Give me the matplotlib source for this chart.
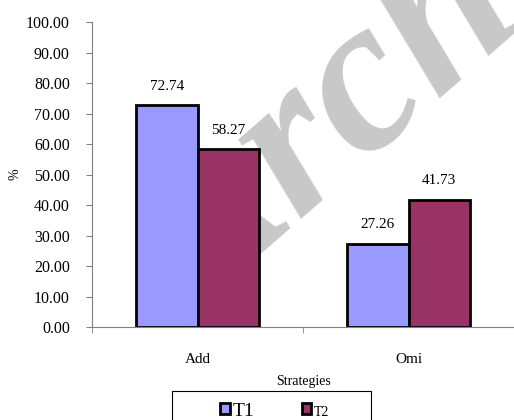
import matplotlib.pyplot as plt
from matplotlib.patches import Rectangle
import numpy as np

strategies = ["Add", "Omi"]
t1 = [72.74, 27.26]
t2 = [58.27, 41.73]
series_names = ["T1", "T2"]

plt.rcParams['font.family'] = ['Liberation Serif', 'DejaVu Serif']

fig = plt.figure(figsize=(5.14, 4.20), dpi=100)
ax = fig.add_axes([0.179, 0.2214, 0.821, 0.7262])

# faint watermark behind the bars
fig.text(190 / 514, 1 - 325 / 420, "Archive", rotation=41, rotation_mode="anchor",
         fontsize=159, color="#c8c8c8", fontstyle="italic", fontweight="bold",
         ha="left", va="baseline", zorder=0)
ax.set_zorder(1)
ax.patch.set_alpha(0)

x = np.arange(len(strategies))
w = 0.29
b1 = ax.bar(x - w / 2, t1, w, color="#9999ff", edgecolor="black", linewidth=2, label=series_names[0])
b2 = ax.bar(x + w / 2, t2, w, color="#993366", edgecolor="black", linewidth=2, label=series_names[1])

for bars, vals in [(b1, t1), (b2, t2)]:
    for bar, v in zip(bars, vals):
        ax.annotate(f"{v:.2f}", (bar.get_x() + bar.get_width() / 2, v),
                    xytext=(0, 9), textcoords="offset points", ha="center", va="bottom", fontsize=11)

ax.set_xlim(-0.5, 1.5)
ax.set_ylim(0, 100)
ax.set_yticks(np.arange(0, 101, 10))
ax.set_yticklabels([f"{v:.2f}" for v in np.arange(0, 101, 10)], fontsize=11.5)
ax.set_xticks(x)
ax.set_xticklabels(strategies, fontsize=11)
ax.set_xticks([-0.5, 0.5, 1.5], minor=True)
ax.tick_params(axis="x", which="major", length=0, pad=19)
ax.tick_params(axis="x", which="minor", length=4, color="#808080")
ax.tick_params(axis="y", length=4, color="#808080", pad=12)

for s in ["top", "right"]:
    ax.spines[s].set_visible(False)
for s in ["left", "bottom"]:
    ax.spines[s].set_color("#808080")

ax.set_ylabel("%", fontsize=10, labelpad=3)
ax.set_xlabel("Strategies", fontsize=10, labelpad=6)

# legend box sits at the bottom edge, partly clipped
fig.patches.append(Rectangle((172 / 514, -0.05), 199 / 514, 0.05 + 29 / 420,
                             transform=fig.transFigure, fill=False,
                             edgecolor="black", linewidth=0.8))
leg = fig.legend(handles=[b1, b2], loc="center", bbox_to_anchor=(275 / 514, 9 / 420),
                 ncol=2, frameon=False,
                 handlelength=0.5, handleheight=0.5, handletextpad=0.15, columnspacing=2.4,
                 borderpad=0, fontsize=14)
leg.get_texts()[1].set_fontsize(10)

fig.savefig("out.png", dpi=100)
